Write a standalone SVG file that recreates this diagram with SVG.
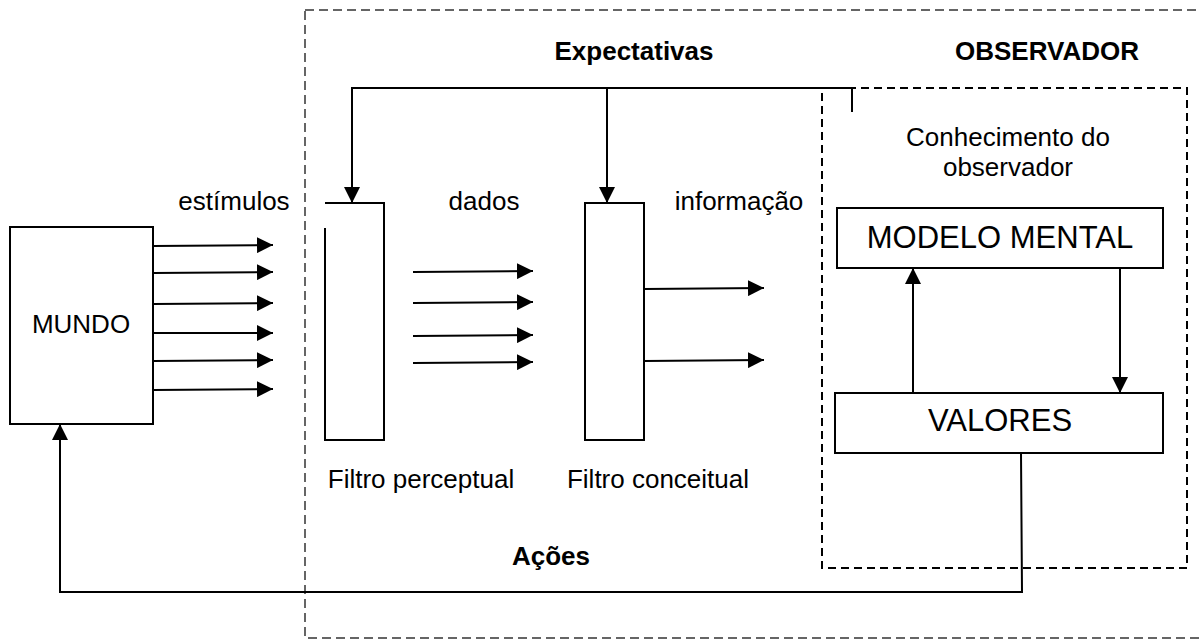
<svg xmlns="http://www.w3.org/2000/svg" width="1200" height="640" viewBox="0 0 1200 640">
  <style>
    .box { fill: #fff; stroke: #000; stroke-width: 2; }
    .line { fill: none; stroke: #000; stroke-width: 2; }
    .dash-outer { fill: none; stroke: #333; stroke-width: 1.5; stroke-dasharray: 9 5; }
    .dash-inner { fill: none; stroke: #000; stroke-width: 2; stroke-dasharray: 8 5; }
    text { font-family: "Liberation Sans", Arial, sans-serif; fill: #000; }
    .lbl { font-size: 26px; }
    .big { font-size: 31px; }
    .bold { font-size: 26px; font-weight: bold; }
  </style>
  <defs>
    <marker id="arrow" viewBox="0 0 10 10" refX="10" refY="5" markerWidth="16" markerHeight="16" markerUnits="userSpaceOnUse" orient="auto">
      <path d="M0,0 L10,5 L0,10 Z" fill="#000"/>
    </marker>
  </defs>

  <!-- observer boundary -->
  <rect class="dash-outer" x="305" y="10" width="910" height="628"/>
  <!-- observer knowledge boundary -->
  <rect class="dash-inner" x="822" y="88" width="365" height="480"/>

  <g id="mundo">
    <rect class="box" x="10" y="227" width="143" height="197"/>
    <text class="lbl" x="81" y="333" text-anchor="middle">MUNDO</text>
  </g>

  <g id="filtro-perceptual">
    <rect x="325" y="203" width="59" height="237" fill="#fff"/>
    <!-- outline left open at the upper-left corner -->
    <path class="line" d="M325,228 L325,440 L384,440 L384,203 L325,203"/>
    <text class="lbl" x="421" y="488" text-anchor="middle">Filtro perceptual</text>
  </g>

  <g id="filtro-conceitual">
    <rect class="box" x="585" y="203" width="59" height="237"/>
    <text class="lbl" x="658" y="488" text-anchor="middle">Filtro conceitual</text>
  </g>

  <g id="modelo-mental">
    <rect class="box" x="837" y="208" width="326" height="60"/>
    <text class="big" x="1000" y="248" text-anchor="middle">MODELO MENTAL</text>
  </g>

  <g id="valores">
    <rect class="box" x="835" y="393" width="328" height="60"/>
    <text class="big" x="1000" y="431" text-anchor="middle">VALORES</text>
  </g>

  <g id="connectors">
    <!-- expectations feed both filters -->
    <path class="line" d="M852,112 L852,88 L352,88 L352,203" marker-end="url(#arrow)"/>
    <path class="line" d="M607,88 L607,203" marker-end="url(#arrow)"/>
    <!-- stimuli -->
    <path class="line" d="M153,246 L273,245" marker-end="url(#arrow)"/>
    <path class="line" d="M153,273 L273,272" marker-end="url(#arrow)"/>
    <path class="line" d="M153,304 L273,303" marker-end="url(#arrow)"/>
    <path class="line" d="M153,333 L273,333" marker-end="url(#arrow)"/>
    <path class="line" d="M153,361 L273,360" marker-end="url(#arrow)"/>
    <path class="line" d="M153,390 L273,389" marker-end="url(#arrow)"/>
    <!-- data -->
    <path class="line" d="M413,272 L533,271" marker-end="url(#arrow)"/>
    <path class="line" d="M413,303 L533,302" marker-end="url(#arrow)"/>
    <path class="line" d="M413,336 L533,335" marker-end="url(#arrow)"/>
    <path class="line" d="M413,363 L533,362" marker-end="url(#arrow)"/>
    <!-- information -->
    <path class="line" d="M644,289 L764,288" marker-end="url(#arrow)"/>
    <path class="line" d="M644,361 L764,360" marker-end="url(#arrow)"/>
    <!-- knowledge loop -->
    <path class="line" d="M913,393 L913,268" marker-end="url(#arrow)"/>
    <path class="line" d="M1120,268 L1120,393" marker-end="url(#arrow)"/>
    <!-- actions back to the world -->
    <path class="line" d="M1021,453 L1022,592 L60,592 L60,424" marker-end="url(#arrow)"/>
  </g>

  <g id="labels">
    <text class="bold" x="634" y="60" text-anchor="middle">Expectativas</text>
    <text class="bold" x="1047" y="60" text-anchor="middle">OBSERVADOR</text>
    <text class="bold" x="551" y="565" text-anchor="middle">Ações</text>
    <text class="lbl" x="234" y="210" text-anchor="middle">estímulos</text>
    <text class="lbl" x="484" y="210" text-anchor="middle">dados</text>
    <text class="lbl" x="739" y="210" text-anchor="middle">informação</text>
    <text class="lbl" x="1008" y="146" text-anchor="middle">Conhecimento do</text>
    <text class="lbl" x="1008" y="176" text-anchor="middle">observador</text>
  </g>
</svg>
